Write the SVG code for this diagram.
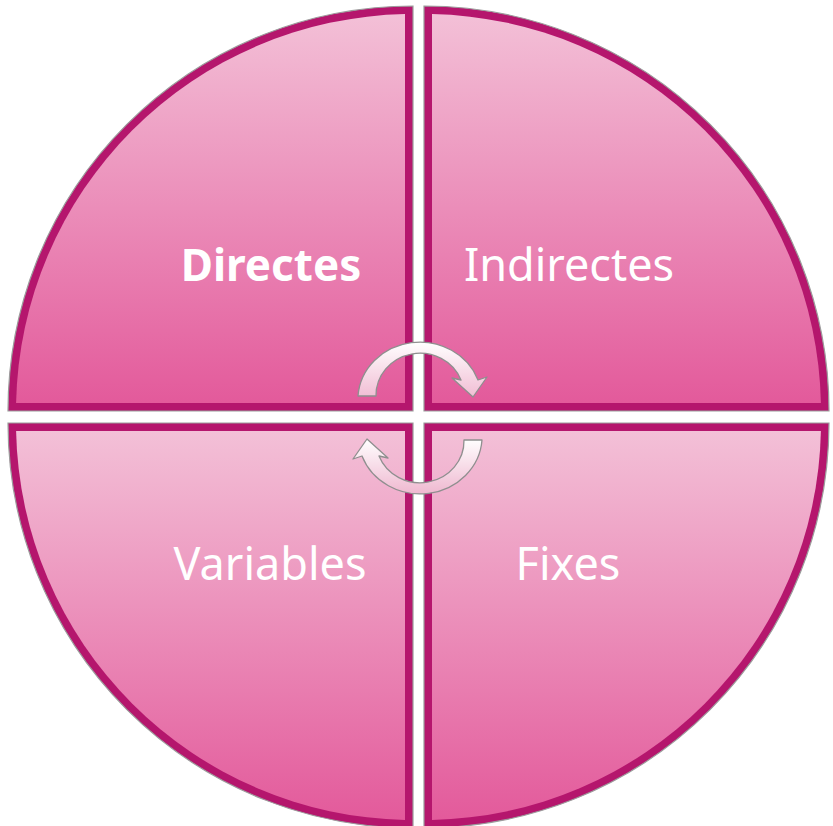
<svg xmlns="http://www.w3.org/2000/svg" width="833" height="826" viewBox="0 0 833 826">
  <defs>
    <linearGradient id="fillGrad" x1="0" y1="0" x2="0" y2="1">
      <stop offset="0" stop-color="#f3c0d7"/>
      <stop offset="1" stop-color="#e35a9b"/>
    </linearGradient>
    <linearGradient id="arrowGrad" x1="0" y1="0" x2="0" y2="1">
      <stop offset="0" stop-color="#ffffff"/>
      <stop offset="1" stop-color="#f1bdd4"/>
    </linearGradient>
    <linearGradient id="arrowGrad2" x1="0" y1="0" x2="0" y2="1">
      <stop offset="0" stop-color="#ffffff"/>
      <stop offset="1" stop-color="#efb8d0"/>
    </linearGradient>
  </defs>
  <style>
    .border { fill: #b5166d; stroke: #9c9c9c; stroke-width: 1.2; }
    .inner { fill: url(#fillGrad); }
    .lbl { font-family: "Noto Sans", "Open Sans", sans-serif; font-size: 45px; fill: #ffffff; text-anchor: middle; }
    .bold { font-weight: bold; font-size: 44px; }
    .arrow { stroke: #8f8f8f; stroke-width: 1.3; stroke-linejoin: round; }
  </style>
  <rect width="833" height="826" fill="#ffffff"/>

  <g id="directes">
    <path class="border" d="M 413,411 L 8,411 A 405 405 0 0 1 413,6 Z"/>
    <path class="inner" d="M 405,403 L 16.1,403 A 397 397 0 0 1 405,14.1 Z"/>
    <text class="lbl bold" x="271" y="281">Directes</text>
  </g>

  <g id="indirectes">
    <path class="border" d="M 424,411 L 424,6 A 405 405 0 0 1 829,411 Z"/>
    <path class="inner" d="M 432,403 L 432,14.1 A 397 397 0 0 1 820.9,403 Z"/>
    <text class="lbl" x="569" y="281">Indirectes</text>
  </g>

  <g id="variables">
    <path class="border" d="M 413,423 L 413,828 A 405 405 0 0 1 8,423 Z"/>
    <path class="inner" d="M 405,431 L 405,819.9 A 397 397 0 0 1 16.1,431 Z"/>
    <text class="lbl" x="270" y="580">Variables</text>
  </g>

  <g id="fixes">
    <path class="border" d="M 424,423 L 829,423 A 405 405 0 0 1 424,828 Z"/>
    <path class="inner" d="M 432,431 L 820.9,431 A 397 397 0 0 1 432,819.9 Z"/>
    <text class="lbl" x="568" y="580">Fixes</text>
  </g>

  <g id="connectors">
    <path class="arrow" fill="url(#arrowGrad)" d="M 358,396 A 62 58 0 0 1 478,380 L 487,377 L 473,397 L 452,378 L 461,380 A 44 42 0 0 0 376,396 Z"/>
    <path class="arrow" fill="url(#arrowGrad2)" d="M 482,440 A 62 58 0 0 1 362,456 L 353,459 L 367,439 L 388,458 L 379,456 A 44 42 0 0 0 464,440 Z"/>
  </g>
</svg>
